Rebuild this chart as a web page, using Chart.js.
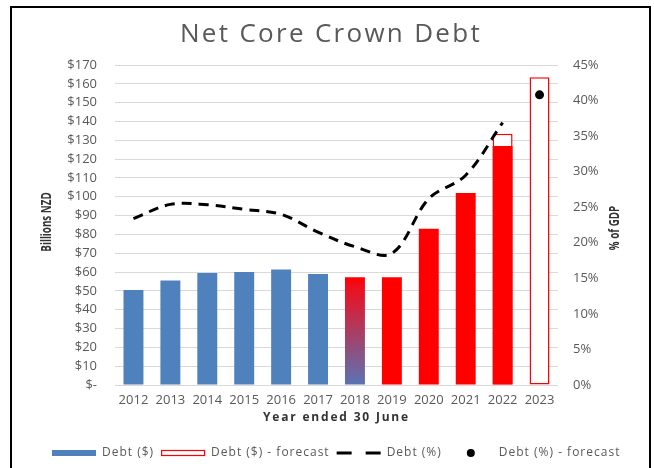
<!DOCTYPE html>
<html>
<head>
<meta charset="utf-8">
<title>Net Core Crown Debt</title>
<script src="https://cdn.jsdelivr.net/npm/chart.js@4.4.1/dist/chart.umd.min.js"></script>
<style>
  html, body { margin: 0; padding: 0; background: #fff; }
  #wrap { position: relative; width: 654px; height: 468px; overflow: hidden; }
  #frame { position: absolute; left: 10px; top: 6px; width: 641px; height: 480px;
           border: 2px solid #000; box-sizing: border-box; pointer-events: none; }
  canvas { position: absolute; left: 0; top: 0; }
</style>
</head>
<body>
<div id="wrap">
  <canvas id="debtChart" width="654" height="468"></canvas>
  <div id="frame"></div>
</div>
<script>
// Net core Crown debt, year ended 30 June ($ billions and % of GDP)
const years = ["2012", "2013", "2014", "2015", "2016", "2017", "2018", "2019", "2020", "2021", "2022", "2023"];
const debtDollars = [50.5, 55.5, 59.5, 60, 61.3, 59, 57.2, 57.2, 83, 102, 127, null];
const debtDollarsForecast = [null, null, null, null, null, null, null, null, null, null, 133.5, 163.5];
const debtPct = [23.4, 25.4, 25.35, 24.7, 24.0, 21.5, 19.45, 18.5, 26.2, 29.5, 36.9, null];
const debtPctForecast = [null, null, null, null, null, null, null, null, null, null, null, 40.8];
const dollarTicks = [0, 10, 20, 30, 40, 50, 60, 70, 80, 90, 100, 110, 120, 130, 140, 150, 160, 170];
const pctTicks = [0, 5, 10, 15, 20, 25, 30, 35, 40, 45];

const chartTitle = "Net Core Crown Debt";
const xTitle = "Year ended 30 June";
const yTitle = "Billions NZD";
const y1Title = "% of GDP";

const BLUE = "#4f81bd";
const RED = "#ff0000";
const GREY = "#595959";
const FONT = "'Open Sans', 'Liberation Sans', sans-serif";

// 2018 is the changeover year: shade it from red at the top down to blue
function barColour(ctx) {
  const year = +years[ctx.dataIndex];
  if (year < 2018) return BLUE;
  if (year > 2018) return RED;
  const chart = ctx.chart;
  const y = chart.scales.y;
  if (!y || !chart.chartArea || ctx.raw == null) return RED;
  const g = chart.ctx.createLinearGradient(0, y.getPixelForValue(ctx.raw), 0, y.getPixelForValue(0));
  g.addColorStop(0, RED);
  g.addColorStop(0.1, "#ec1020");
  g.addColorStop(1, "#5a74b4");
  return g;
}

function spacedText(ctx, text, x, y, font, color, spacing, align) {
  ctx.save();
  ctx.font = font;
  ctx.fillStyle = color;
  ctx.letterSpacing = spacing + "px";
  ctx.textAlign = align || "left";
  ctx.textBaseline = "middle";
  ctx.fillText(text, x, y);
  const w = ctx.measureText(text).width;
  ctx.restore();
  return w;
}

// rotated axis title, squeezed along its length
function sideTitle(ctx, text, x, y) {
  ctx.save();
  ctx.font = "bold 14px " + FONT;
  ctx.fillStyle = "#333";
  ctx.textAlign = "center";
  ctx.textBaseline = "middle";
  ctx.translate(x, y);
  ctx.rotate(-Math.PI / 2);
  ctx.scale(0.7, 1);
  ctx.fillText(text, 0, 0);
  ctx.restore();
}

// chart title, axis titles and the legend row
const extras = {
  id: "extras",
  afterDraw(chart) {
    const { ctx, chartArea, scales } = chart;
    const midY = (chartArea.top + chartArea.bottom) / 2;

    spacedText(ctx, chartTitle, 331, 35, "26px " + FONT, GREY, 2.3, "center");
    spacedText(ctx, xTitle, (chartArea.left + chartArea.right) / 2, scales.x.top + 33,
      "bold 12px " + FONT, "#333", 1.8, "center");
    sideTitle(ctx, yTitle, scales.y.left + 47, midY - 3);
    sideTitle(ctx, y1Title, scales.y1.right - 39, midY + 3);

    const ly = 453, sym = 44;
    let x = 52;
    ctx.save();
    chart.data.datasets.forEach(ds => {
      const cx = x + sym / 2;
      if (ds.type === "line" && ds.showLine === false) {
        ctx.fillStyle = "#000";
        ctx.beginPath();
        ctx.arc(cx, ly, 4, 0, Math.PI * 2);
        ctx.fill();
      } else if (ds.type === "line") {
        ctx.strokeStyle = "#000";
        ctx.lineWidth = 3;
        ctx.setLineDash([15, 14]);
        ctx.beginPath();
        ctx.moveTo(x, ly);
        ctx.lineTo(x + sym, ly);
        ctx.stroke();
        ctx.setLineDash([]);
      } else if (ds.backgroundColor === "#ffffff") {
        ctx.fillStyle = "#fff";
        ctx.fillRect(x, ly - 3, sym, 6);
        ctx.strokeStyle = RED;
        ctx.lineWidth = 1.2;
        ctx.strokeRect(x + 0.5, ly - 2.5, sym - 1, 5);
      } else {
        ctx.fillStyle = BLUE;
        ctx.fillRect(x, ly - 3, sym, 6);
      }
      const w = spacedText(ctx, ds.label, x + sym + 6, ly, "12px " + FONT, GREY, 1);
      x += sym + 6 + w + 7;
    });
    ctx.restore();
  }
};

new Chart(document.getElementById("debtChart"), {
  data: {
    labels: years,
    datasets: [
      {
        type: "bar",
        label: "Debt ($)",
        data: debtDollars,
        backgroundColor: barColour,
        yAxisID: "y",
        grouped: false,
        barPercentage: 0.54,
        categoryPercentage: 1,
        order: 2
      },
      {
        type: "bar",
        label: "Debt ($) - forecast",
        data: debtDollarsForecast,
        backgroundColor: "#ffffff",
        borderColor: RED,
        borderWidth: 1.5,
        borderSkipped: false,
        yAxisID: "y",
        grouped: false,
        barPercentage: 0.54,
        categoryPercentage: 1,
        order: 3
      },
      {
        type: "line",
        label: "Debt (%)",
        data: debtPct,
        borderColor: "#000",
        borderWidth: 3,
        borderDash: [10, 7],
        pointRadius: 0,
        tension: 0.35,
        fill: false,
        yAxisID: "y1",
        order: 1
      },
      {
        type: "line",
        label: "Debt (%) - forecast",
        data: debtPctForecast,
        showLine: false,
        pointRadius: 4.5,
        pointBackgroundColor: "#000",
        pointBorderWidth: 0,
        yAxisID: "y1",
        order: 0
      }
    ]
  },
  options: {
    responsive: false,
    animation: false,
    layout: { padding: { left: 0, right: 0, top: 65, bottom: 38 } },
    plugins: {
      legend: { display: false },
      tooltip: { enabled: false },
      title: { display: false }
    },
    scales: {
      x: {
        grid: { display: false, drawTicks: false },
        border: { display: false },
        ticks: { color: GREY, font: { family: FONT, size: 13 }, padding: 7, maxRotation: 0, autoSkip: false },
        afterFit: s => { s.height = 45; }
      },
      y: {
        position: "left",
        min: 0,
        max: 170,
        afterBuildTicks: s => { s.ticks = dollarTicks.map(v => ({ value: v })); },
        grid: { color: "#d9d9d9", lineWidth: 1, drawTicks: false },
        border: { display: false },
        ticks: {
          color: GREY,
          font: { family: FONT, size: 13 },
          padding: 18,
          callback: v => v === 0 ? "$-" : "$" + v
        },
        afterFit: s => { s.width = 115; }
      },
      y1: {
        position: "right",
        min: 0,
        max: 45,
        afterBuildTicks: s => { s.ticks = pctTicks.map(v => ({ value: v })); },
        grid: { display: false, drawTicks: false },
        border: { display: false },
        ticks: {
          color: GREY,
          font: { family: FONT, size: 13 },
          padding: 15,
          callback: v => v + "%"
        },
        afterFit: s => { s.width = 96; }
      }
    }
  },
  plugins: [extras]
});
</script>
</body>
</html>
